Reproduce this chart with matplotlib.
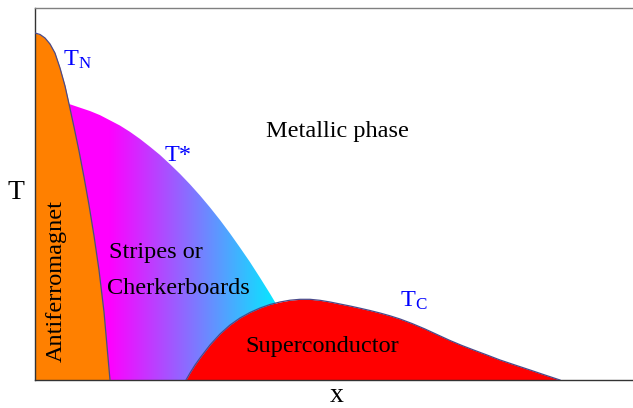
import matplotlib
matplotlib.use('Agg')
import matplotlib.pyplot as plt
import numpy as np
from matplotlib.colors import LinearSegmentedColormap
from matplotlib.patches import Polygon

plt.rcParams['font.family'] = 'Liberation Serif'
plt.rcParams['mathtext.fontset'] = 'custom'
plt.rcParams['mathtext.rm'] = 'Liberation Serif'
fontsize = 17.5

# Neel temperature boundary (antiferromagnet)
tn_x = [0.0000, 0.0084, 0.0167, 0.0251, 0.0334, 0.0418, 0.0502, 0.0569, 0.0652,
        0.0736, 0.0819, 0.0903, 0.0987, 0.1070, 0.1154, 0.1254]
tn_t = [0.9328, 0.9288, 0.9194, 0.9032, 0.8790, 0.8387, 0.7903, 0.7419, 0.6801,
        0.6156, 0.5457, 0.4704, 0.3871, 0.2957, 0.1828, 0.0000]

# pseudogap T* line (stripes / checkerboards)
ts_x = [0.0569, 0.0753, 0.0920, 0.1087, 0.1254, 0.1421, 0.1589, 0.1756, 0.1923,
        0.2090, 0.2258, 0.2425, 0.2592, 0.2759, 0.2926, 0.3094, 0.3261, 0.3428,
        0.3595, 0.3763, 0.3930, 0.4097]
ts_t = [0.742, 0.732, 0.723, 0.712, 0.698, 0.684, 0.667, 0.648, 0.627,
        0.605, 0.580, 0.554, 0.526, 0.496, 0.464, 0.430, 0.394, 0.356,
        0.317, 0.275, 0.232, 0.187]

# superconducting dome Tc
tc_x = [0.2525, 0.2592, 0.2676, 0.2759, 0.2926, 0.3094, 0.3261, 0.3428, 0.3595,
        0.3763, 0.3930, 0.4097, 0.4264, 0.4431, 0.4599, 0.4766, 0.4933, 0.5100,
        0.5268, 0.5435, 0.5602, 0.5769, 0.5936, 0.6104, 0.6304, 0.6522, 0.6722,
        0.6940, 0.7140, 0.7358, 0.7559, 0.7776, 0.8027, 0.8278, 0.8528, 0.8779]
tc_t = [0.0000, 0.0188, 0.0403, 0.0591, 0.0941, 0.1237, 0.1478, 0.1667, 0.1815,
        0.1935, 0.2030, 0.2097, 0.2145, 0.2169, 0.2169, 0.2142, 0.2097, 0.2043,
        0.1989, 0.1930, 0.1868, 0.1801, 0.1726, 0.1640, 0.1519, 0.1371, 0.1223,
        0.1062, 0.0927, 0.0793, 0.0672, 0.0538, 0.0403, 0.0269, 0.0134, 0.0000]

edge = '#4a4a8a'

fig = plt.figure(figsize=(6.33, 4.08), dpi=100)
ax = fig.add_axes([35 / 633, 28 / 408, 598 / 633, 372 / 408])
ax.set_xlim(0, 1)
ax.set_ylim(0, 1)

# gradient region under T*
poly_pts = list(zip(ts_x, ts_t)) + [(ts_x[-1], 0.0), (ts_x[0], 0.0)]
clip = Polygon(poly_pts, closed=True, facecolor='none', edgecolor='none')
ax.add_patch(clip)
cmap = LinearSegmentedColormap.from_list(
    'stripes', [(0.0, '#ff00ff'), (0.19, '#ff00ff'), (1.0, '#00eeff')])
grad = np.linspace(0, 1, 256).reshape(1, -1)
im = ax.imshow(grad, cmap=cmap, extent=(ts_x[0], ts_x[-1], 0, max(ts_t)),
               aspect='auto', origin='lower', zorder=1)
im.set_clip_path(clip)

# antiferromagnet
ax.fill_between(tn_x, tn_t, 0, color='#ff8000', zorder=2, linewidth=0)
ax.plot(tn_x, tn_t, color=edge, lw=0.9, zorder=3)

# superconductor
ax.fill_between(tc_x, tc_t, 0, color='#ff0000', zorder=2, linewidth=0)
ax.plot(tc_x, tc_t, color=edge, lw=0.9, zorder=3)

# labels
ax.text(0.047, 0.844, r'$\mathrm{T_N}$', color='#0000ff', fontsize=fontsize,
        ha='left', va='baseline', zorder=4)
ax.text(0.217, 0.589, 'T*', color='#0000ff', fontsize=fontsize,
        ha='left', va='baseline', zorder=4)
ax.text(0.610, 0.196, r'$\mathrm{T_C}$', color='#0000ff', fontsize=fontsize,
        ha='left', va='baseline', zorder=4)
ax.text(0.505, 0.653, 'Metallic phase', fontsize=fontsize, ha='center', va='baseline', zorder=4)
ax.text(0.2015, 0.327, 'Stripes or', fontsize=fontsize, ha='center', va='baseline', zorder=4)
ax.text(0.239, 0.231, 'Cherkerboards', fontsize=fontsize, ha='center', va='baseline', zorder=4)
ax.text(0.481, 0.076, 'Superconductor', fontsize=fontsize, ha='center', va='baseline', zorder=4)
ax.text(0.035, 0.266, 'Antiferromagnet', fontsize=fontsize, rotation=90,
        ha='center', va='center', zorder=4)
ax.text(-0.032, 0.505, 'T', fontsize=20, ha='center', va='center', clip_on=False)
ax.text(0.504, -0.059, 'x', fontsize=20, ha='center', va='baseline', clip_on=False)

ax.set_xticks([])
ax.set_yticks([])
ax.spines['right'].set_visible(False)
ax.spines['top'].set_color('#808080')
ax.spines['left'].set_color('#333333')
ax.spines['bottom'].set_color('#333333')
for s in ax.spines.values():
    s.set_linewidth(1.0)

fig.savefig('out.png', dpi=100)
